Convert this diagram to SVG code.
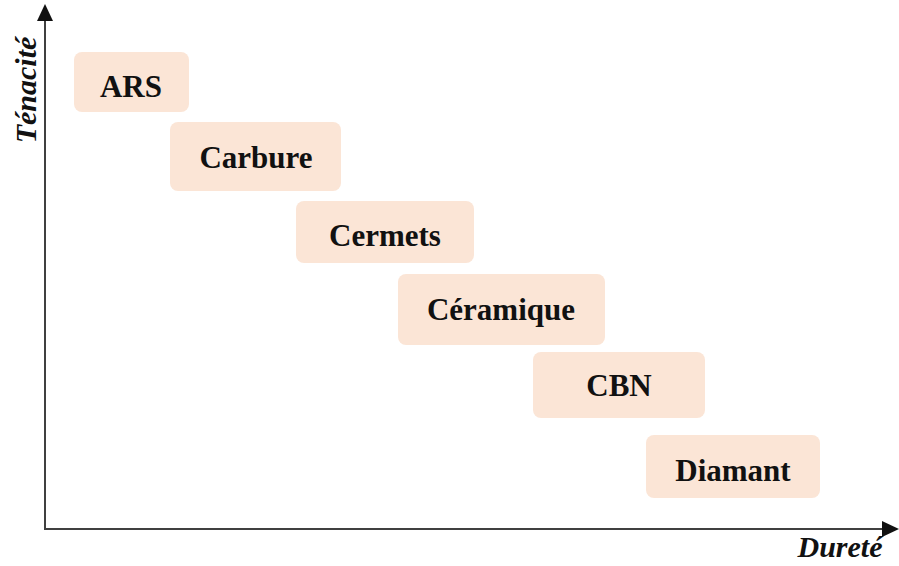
<svg xmlns="http://www.w3.org/2000/svg" width="899" height="566" viewBox="0 0 899 566">
<style>
.box{fill:#FBE5D6;stroke:none}
.lbl{font-family:"Liberation Serif","Times New Roman",serif;font-weight:bold;font-size:31px;fill:#111;text-anchor:middle}
.ax{font-family:"Liberation Serif","Times New Roman",serif;font-weight:bold;font-style:italic;font-size:30px;fill:#111}
.axis{stroke:#404040;stroke-width:2;fill:none}
</style>
<rect width="899" height="566" fill="#fff"/>
<g id="connectors">
<line class="axis" x1="45" y1="530" x2="45" y2="20"/>
<polygon points="45,4 37,21 53,21" fill="#111"/>
<line class="axis" x1="44" y1="529" x2="884" y2="529"/>
<polygon points="899,529 882,521 882,537" fill="#111"/>
</g>
<g id="axis-y"><text class="ax" transform="translate(36,90) rotate(-90)" text-anchor="middle">Ténacité</text></g>
<g id="axis-x"><text class="ax" x="840" y="557" text-anchor="middle">Dureté</text></g>
<g id="ARS"><rect class="box" x="74" y="52" width="115" height="60" rx="8"/><text class="lbl" x="131" y="97">ARS</text></g>
<g id="Carbure"><rect class="box" x="170" y="122" width="171" height="69" rx="8"/><text class="lbl" x="256" y="168">Carbure</text></g>
<g id="Cermets"><rect class="box" x="296" y="201" width="178" height="62" rx="8"/><text class="lbl" x="385" y="246">Cermets</text></g>
<g id="Ceramique"><rect class="box" x="398" y="274" width="207" height="71" rx="8"/><text class="lbl" x="501" y="320">Céramique</text></g>
<g id="CBN"><rect class="box" x="533" y="352" width="172" height="66" rx="8"/><text class="lbl" x="619" y="396">CBN</text></g>
<g id="Diamant"><rect class="box" x="646" y="435" width="174" height="63" rx="8"/><text class="lbl" x="733" y="481">Diamant</text></g>
</svg>
